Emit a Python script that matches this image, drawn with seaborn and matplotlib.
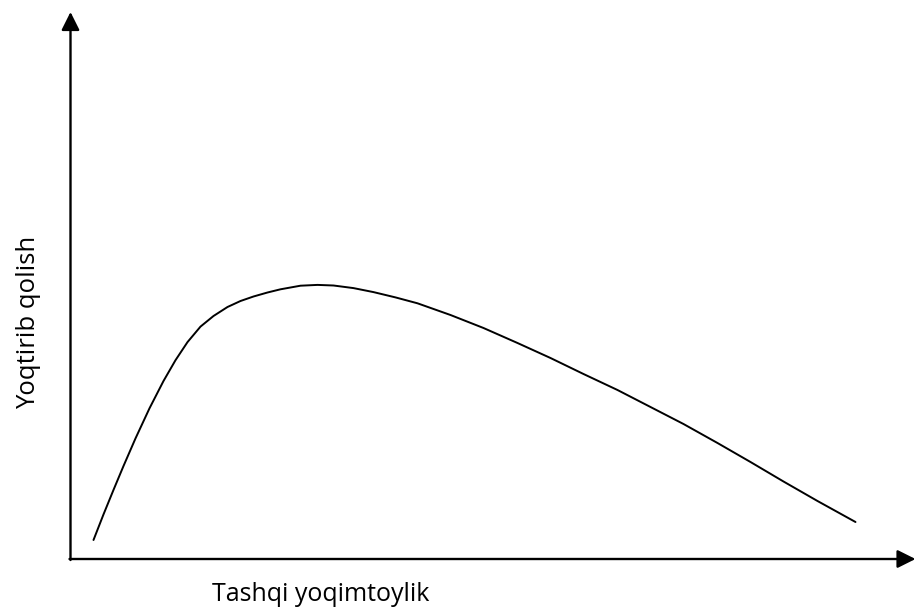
import seaborn as sns
import matplotlib.pyplot as plt
import pandas as pd

# curve (x from the vertical axis, y up from the horizontal axis)
appeal = [23, 33, 43, 53, 65, 79, 93, 105, 117, 130, 143, 157, 170, 183, 197, 210,
          230, 247, 263, 283, 303, 325, 347, 380, 413, 447, 480, 513, 547, 580,
          613, 647, 680, 713, 747, 785]
liking = [19, 44.6, 69.1, 93, 120.6, 150.7, 178, 198.8, 216.9, 232.4, 243, 252, 258,
          262.5, 266.5, 269.7, 273.3, 274.1, 273.5, 270.9, 266.9, 261.6, 255.7, 244,
          231, 216, 201, 185, 169, 152, 135, 116, 97, 77.5, 58, 37]

x_label = "Tashqi yoqimtoylik"
y_label = "Yoqtirib qolish"

df = pd.DataFrame({"x": appeal, "y": liking})

sns.set_style("white")
plt.rcParams['font.family'] = ['Open Sans', 'DejaVu Sans']

fig = plt.figure(figsize=(9.15, 6.07), dpi=100)
ax = fig.add_axes([0, 0, 1, 1])
ax.set_xlim(-70.5, 844.5)
ax.set_ylim(-48, 559)
ax.axis("off")

sns.lineplot(data=df, x="x", y="y", ax=ax, color="black", linewidth=1.4, sort=False)
ax.lines[0].set_solid_joinstyle("round")

arrow = dict(arrowstyle="-|>,head_length=1.1,head_width=0.55", color="black",
             lw=1.7, shrinkA=0, shrinkB=0)
ax.annotate("", xy=(845, 0), xytext=(-1, 0), arrowprops=arrow)
ax.annotate("", xy=(0, 547), xytext=(0, -1), arrowprops=arrow)

fig.text(321 / 915, 1 - 601 / 607, x_label, ha="center", va="baseline",
         fontsize=18, color="black")
fig.text(29 / 915, 1 - 322 / 607, y_label, ha="center", va="center", rotation=90,
         fontsize=18.5, color="black")

fig.savefig("out.png", dpi=100)
